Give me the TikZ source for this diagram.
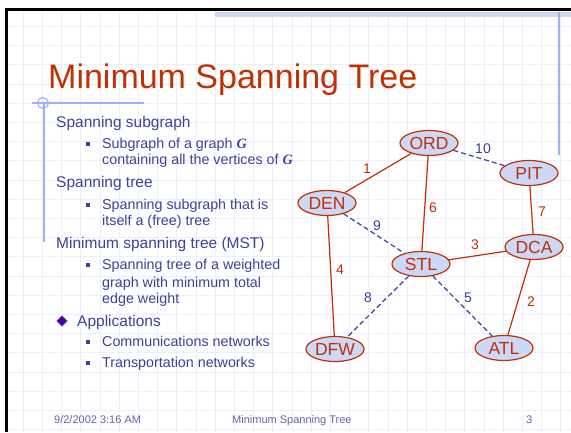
\documentclass[tikz,border=0pt]{standalone}
\usepackage{fontspec}
\setmainfont{Liberation Sans}
\newfontfamily\gfont{Liberation Serif}
\usetikzlibrary{shapes.geometric}

\definecolor{mstred}{RGB}{192,48,0}
\definecolor{mstblue}{RGB}{64,64,153}
\definecolor{mstfoot}{RGB}{100,100,170}
\definecolor{mstfill}{RGB}{204,216,248}
\definecolor{mstgrid}{RGB}{236,240,252}
\definecolor{mstrule}{RGB}{160,176,248}
\definecolor{mstband}{RGB}{205,215,245}
\definecolor{mstgem}{RGB}{70,0,160}

\newcommand{\bigG}{{\gfont\bfseries\itshape G}}

\tikzset{
  city/.style={ellipse,draw=mstred,fill=mstfill,line width=1.2pt,text=mstred,
    minimum width=58pt,minimum height=25pt,inner sep=0pt,
    font=\fontsize{17.5}{18}\selectfont},
  treeedge/.style={draw=mstred,line width=1.2pt},
  otheredge/.style={draw=mstblue,line width=1.2pt,dash pattern=on 5pt off 3pt},
  wred/.style={text=mstred,inner sep=0pt,font=\fontsize{14}{14}\selectfont},
  wblue/.style={text=mstblue,inner sep=0pt,font=\fontsize{14}{14}\selectfont},
  level1/.style={anchor=base west,inner sep=0pt,text=mstblue,font=\fontsize{15.5}{16}\selectfont},
  level2/.style={anchor=base west,inner sep=0pt,text=mstblue,font=\fontsize{14.3}{15}\selectfont},
  sqbullet/.style={fill=mstblue,minimum size=4.5pt,inner sep=0pt},
  footer/.style={anchor=base west,inner sep=0pt,text=mstfoot,font=\fontsize{11}{11}\selectfont},
  gridline/.style={draw=mstgrid,line width=0.5pt}
}

\begin{document}
\begin{tikzpicture}[x=1pt,y=-1pt]
  \useasboundingbox[fill=white] (0,0) rectangle (571,432);

  % slide background
  \foreach \k in {1,...,29}
    \draw[gridline] ({3.8+19.2*\k},11) -- ++(0,421);
  \foreach \k in {1,...,22}
    \draw[gridline] (8,{7+19.2*\k}) -- ++(563,0);
  \fill[black] (5,8) rectangle (571,11);
  \fill[black] (5,8) rectangle (8,432);
  \fill[mstband] (215,12) rectangle (571,17);
  \draw[mstrule,line width=2pt] (559,12) -- (559,155);
  \draw[mstrule,line width=1.5pt] (32,103) -- (144,103);
  \draw[mstrule,line width=1.5pt] (44,103) -- (44,242);
  \draw[mstrule,line width=1.2pt] (43,103) circle (5.5);

  \node[anchor=base west,inner sep=0pt,text=mstred,font=\fontsize{34}{34}\selectfont]
    (title) at (48,88) {Minimum Spanning Tree};

  % bullet list
  \node[level1] (t1) at (56,127) {Spanning subgraph};
  \node[sqbullet] (b1) at (88,144) {};
  \node[level2] (t11) at (102,148) {Subgraph of a graph \bigG};
  \node[level2] (t12) at (102,164) {containing all the vertices of \bigG};
  \node[level1] (t2) at (56,187) {Spanning tree};
  \node[sqbullet] (b2) at (88,205) {};
  \node[level2] (t21) at (102,209) {Spanning subgraph that is};
  \node[level2] (t22) at (102,225) {itself a (free) tree};
  \node[level1] (t3) at (56,248) {Minimum spanning tree (MST)};
  \node[sqbullet] (b3) at (88,265) {};
  \node[level2] (t31) at (102,269) {Spanning tree of a weighted};
  \node[level2] (t32) at (102,287) {graph with minimum total};
  \node[level2] (t33) at (102,303) {edge weight};
  \node[diamond,fill=mstgem,draw=mstgem!60,minimum size=11pt,inner sep=0pt] (gem) at (62,321) {};
  \node[level1] (t4) at (77,326) {Applications};
  \node[sqbullet] (b4) at (88,342) {};
  \node[level2] (t41) at (102,346) {Communications networks};
  \node[sqbullet] (b5) at (88,363) {};
  \node[level2] (t42) at (102,367) {Transportation networks};

  % airports
  \node[city] (ORD) at (429,143) {ORD};
  \node[city] (PIT) at (529,173) {PIT};
  \node[city] (DEN) at (327,203) {DEN};
  \node[city] (DCA) at (534,247) {DCA};
  \node[city] (STL) at (421,264) {STL};
  \node[city] (DFW) at (335,349) {DFW};
  \node[city] (ATL) at (504,348) {ATL};

  \draw[treeedge] (ORD) -- (DEN);
  \draw[otheredge] (ORD) -- (PIT);
  \draw[treeedge] (ORD) -- (STL);
  \draw[treeedge] (PIT) -- (DCA);
  \draw[otheredge] (DEN) -- (STL);
  \draw[treeedge] (DEN) -- (DFW);
  \draw[treeedge] (STL) -- (DCA);
  \draw[otheredge] (STL) -- (DFW);
  \draw[otheredge] (STL) -- (ATL);
  \draw[treeedge] (DCA) -- (ATL);

  \node[wred] (w1) at (367,169) {1};
  \node[wblue] (w10) at (483,149) {10};
  \node[wred] (w6) at (433,208) {6};
  \node[wred] (w7) at (542,212) {7};
  \node[wblue] (w9) at (377,226) {9};
  \node[wred] (w4) at (340,270) {4};
  \node[wred] (w3) at (475,245) {3};
  \node[wblue] (w8) at (368,298) {8};
  \node[wblue] (w5) at (468,298) {5};
  \node[wred] (w2) at (531,302) {2};

  % footer
  \node[footer] (date) at (54,423) {9/2/2002 3:16 AM};
  \node[footer] (ftitle) at (232,423) {Minimum Spanning Tree};
  \node[footer] (page) at (526,423) {3};
\end{tikzpicture}
\end{document}
